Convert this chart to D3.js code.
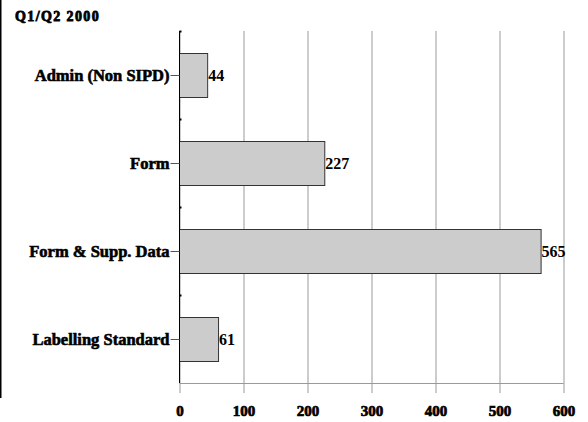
<!DOCTYPE html>
<html><head><meta charset="utf-8">
<script src="https://cdn.jsdelivr.net/npm/d3@7"></script>
<style>body{margin:0;background:#fff}svg{display:block}</style>
</head><body>
<script>
const title = "Q1/Q2 2000";
const categories = ["Admin (Non SIPD)", "Form", "Form & Supp. Data", "Labelling Standard"];
const values = [44, 227, 565, 61];
const xTicks = [0, 100, 200, 300, 400, 500, 600];

const FONT = "'Liberation Serif', 'Times New Roman', 'DejaVu Serif', serif";
const W = 588, H = 422;
const svg = d3.select("body").append("svg").attr("width", W).attr("height", H);

const x = d3.scaleLinear().domain([0, 600]).range([179.5, 563.5]);
const y = d3.scaleBand().domain(categories).range([31, 383]).paddingInner(0.5).paddingOuter(0.25);
const band = d3.scaleBand().domain(categories).range([31, 383]);

// left frame line
svg.append("line").attr("x1", 0.5).attr("x2", 0.5).attr("y1", 0).attr("y2", 398)
  .attr("stroke", "#000").attr("stroke-width", 2);

svg.append("text").attr("x", 15).attr("y", 20.5).style("font-family", FONT).style("font-size", "14px")
  .style("font-weight", "bold").style("letter-spacing", "1.4px")
  .attr("stroke", "#000").attr("stroke-width", 0.8).text(title);

// gridlines + ticks
const xAxis = svg.append("g").attr("transform", "translate(0,383)")
  .call(d3.axisBottom(x).tickValues(xTicks).tickSize(10).tickPadding(12).tickFormat(d3.format("d")));
xAxis.select(".domain").attr("stroke", "#999").attr("d", `M${x(0)},0.5H${x(600)}`);
xAxis.selectAll(".tick line").attr("stroke", "#999").attr("y1", -352);
xAxis.selectAll(".tick text").style("font-family", FONT).style("font-size", "15px").style("font-weight", "bold")
  .attr("fill", "#000").attr("stroke", "#000").attr("stroke-width", 0.7);

// bars
svg.append("g").selectAll("rect").data(values).join("rect")
  .attr("x", x(0)).attr("y", (d, i) => Math.round(y(categories[i])) + 0.5)
  .attr("width", d => x(d) - x(0)).attr("height", Math.round(y.bandwidth()))
  .attr("fill", "#cccccc").attr("stroke", "#333").attr("stroke-width", 1);

// value labels
svg.append("g").selectAll("text").data(values).join("text")
  .attr("x", d => x(d) + 0.5).attr("y", (d, i) => y(categories[i]) + y.bandwidth() / 2)
  .attr("dy", "0.35em").style("font-family", FONT).style("font-size", "16px").style("font-weight", "bold")
  .text(d => d);

// left axis
const yAxis = svg.append("g").attr("transform", "translate(179.5,0)");
yAxis.append("line").attr("y1", 31).attr("y2", 383).attr("stroke", "#000");
yAxis.selectAll(".bt").data(categories).join("line").attr("class", "bt")
  .attr("x1", 0).attr("x2", 2).attr("y1", d => band(d) + 0.5).attr("y2", d => band(d) + 0.5)
  .attr("stroke", "#000").attr("stroke-width", 2);
yAxis.selectAll(".ct").data(categories).join("line").attr("class", "ct")
  .attr("x1", -9).attr("x2", 0)
  .attr("y1", d => Math.round(band(d) + band.bandwidth() / 2) + 0.5)
  .attr("y2", d => Math.round(band(d) + band.bandwidth() / 2) + 0.5)
  .attr("stroke", "#555");
yAxis.selectAll("text").data(categories).join("text")
  .attr("x", -10).attr("y", d => band(d) + band.bandwidth() / 2).attr("dy", "0.35em")
  .attr("text-anchor", "end").style("font-family", FONT).style("font-size", "16.5px").style("font-weight", "bold")
  .attr("stroke", "#000").attr("stroke-width", 0.6).text(d => d);
</script>
</body></html>
